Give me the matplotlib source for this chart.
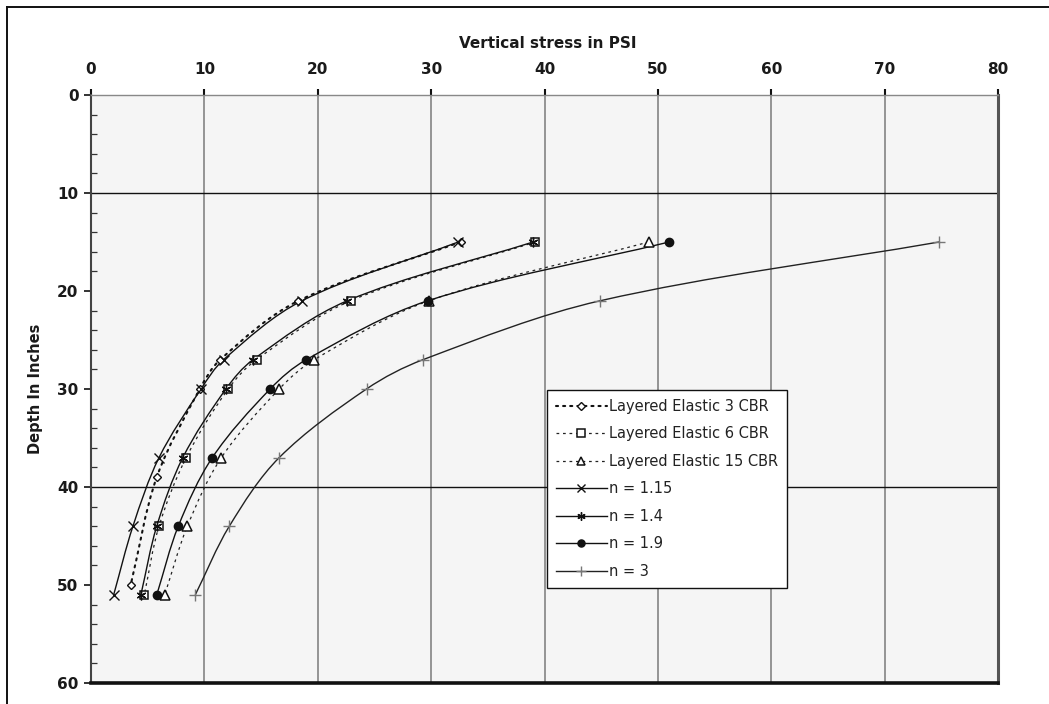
import numpy as np
import matplotlib
matplotlib.use("Agg")
import matplotlib.pyplot as plt
from matplotlib.path import Path
from matplotlib.patches import PathPatch
from matplotlib.lines import Line2D

plt.rcParams['font.family'] = ['DejaVu Sans']

# Depths (inches) at which stresses were computed
depth = [15, 21, 27, 30, 37, 44, 51]
depth_3cbr = [15, 21, 27, 30, 39, 50]

# Vertical stress (psi)
le_3cbr = [32.6, 18.3, 11.4, 9.6, 5.8, 3.5]
le_6cbr = [39.2, 22.9, 14.6, 12.1, 8.4, 6.0, 4.7]
le_15cbr = [49.2, 29.8, 19.7, 16.6, 11.5, 8.5, 6.5]
n_115 = [32.4, 18.6, 11.7, 9.7, 6.0, 3.7, 2.0]
n_14 = [39.0, 22.6, 14.3, 11.9, 8.1, 5.8, 4.4]
n_19 = [51.0, 29.7, 19.0, 15.8, 10.7, 7.7, 5.8]
n_3 = [74.8, 44.9, 29.3, 24.3, 16.6, 12.2, 9.2]

labels = ["Layered Elastic 3 CBR", "Layered Elastic 6 CBR", "Layered Elastic 15 CBR",
          "n = 1.15", "n = 1.4", "n = 1.9", "n = 3"]

x_ticks = [0, 10, 20, 30, 40, 50, 60, 70, 80]
y_ticks = [0, 10, 20, 30, 40, 50, 60]
y_rules = [10, 40]

star = (6, 2, 0)

series = [
    (le_3cbr, depth_3cbr, dict(ls=(0, (1.0, 2.4)), lw=1.5, color="#111111", cap="round",
                               marker="D", ms=4.5, mfc="white", mec="#111111", mew=1.0)),
    (le_6cbr, depth, dict(ls=(0, (2.2, 3.0)), lw=0.9, color="#222222", cap="butt",
                          marker="s", ms=6, mfc="white", mec="#111111", mew=1.1)),
    (le_15cbr, depth, dict(ls=(0, (2.2, 3.0)), lw=0.9, color="#222222", cap="butt",
                           marker="^", ms=7, mfc="white", mec="#111111", mew=1.1)),
    (n_115, depth, dict(ls="-", lw=1.0, color="#111111", cap="butt",
                        marker="x", ms=7, mfc="none", mec="#111111", mew=1.0)),
    (n_14, depth, dict(ls="-", lw=1.0, color="#111111", cap="butt",
                       marker=star, ms=7, mfc="none", mec="#111111", mew=1.0)),
    (n_19, depth, dict(ls="-", lw=1.0, color="#111111", cap="butt",
                       marker="o", ms=6, mfc="#111111", mec="#111111", mew=1.0)),
    (n_3, depth, dict(ls="-", lw=1.0, color="#222222", cap="butt",
                      marker="+", ms=8, mfc="none", mec="#777777", mew=1.0)),
]


def smooth_path(ax, xs, ys):
    """Smoothed Bezier path through the points (chord-length tangents in display space)."""
    pts = np.column_stack([xs, ys]).astype(float)
    disp = ax.transData.transform(pts)
    d = np.hypot(*np.diff(disp, axis=0).T)
    n = len(pts)
    tang = np.zeros_like(pts)
    tang[0] = (pts[1] - pts[0]) / d[0]
    tang[-1] = (pts[-1] - pts[-2]) / d[-1]
    for i in range(1, n - 1):
        tang[i] = (pts[i + 1] - pts[i - 1]) / (d[i - 1] + d[i])
    verts = [pts[0]]
    codes = [Path.MOVETO]
    for i in range(n - 1):
        c1 = pts[i] + tang[i] * d[i] / 3.0
        c2 = pts[i + 1] - tang[i + 1] * d[i] / 3.0
        verts += [c1, c2, pts[i + 1]]
        codes += [Path.CURVE4] * 3
    return Path(verts, codes)


W, H = 1049, 704
fig = plt.figure(figsize=(W / 100, H / 100), dpi=100)
fig.patch.set_facecolor("white")

L, R, T, B = 91, 998, 95, 683
ax = fig.add_axes([L / W, 1 - B / H, (R - L) / W, (B - T) / H])
ax.set_facecolor("#f5f5f5")

ax.set_xlim(0, 80)
ax.set_ylim(60, 0)

# grid: vertical rules at every major x tick, horizontal rules at two depths
for xv in x_ticks[1:-1]:
    ax.axvline(xv, color="#8c8c8c", lw=1.3, zorder=1)
for yv in y_rules:
    ax.axhline(yv, color="#111111", lw=1.0, zorder=1)

handles = []
for (xs, ys, st), lab in zip(series, labels):
    patch = PathPatch(smooth_path(ax, xs, ys), fill=False, edgecolor=st["color"],
                      lw=st["lw"], linestyle=st["ls"], capstyle=st["cap"], zorder=3)
    ax.add_patch(patch)
    ax.plot(xs, ys, linestyle="none", marker=st["marker"], ms=st["ms"],
            mfc=st["mfc"], mec=st["mec"], mew=st["mew"], zorder=4)
    handles.append(Line2D([], [], color=st["color"], lw=st["lw"], linestyle=st["ls"],
                          dash_capstyle=st["cap"], marker=st["marker"], ms=st["ms"] * 0.85,
                          mfc=st["mfc"], mec=st["mec"], mew=st["mew"], label=lab))

# axes, ticks and labels
ax.xaxis.tick_top()
ax.set_xticks(x_ticks)
ax.set_yticks(y_ticks)
ax.set_yticks(np.arange(0, 61, 2), minor=True)
ax.tick_params(axis="x", which="major", direction="out", length=4, width=1.5,
               color="#111111", pad=9, labelsize=11)
ax.tick_params(axis="y", which="major", direction="out", length=5, width=1.2,
               color="#111111", pad=4, labelsize=11)
ax.tick_params(axis="y", which="minor", direction="in", length=4, width=0.9,
               color="#333333")
for lbl in ax.get_xticklabels() + ax.get_yticklabels():
    lbl.set_fontweight("bold")
    lbl.set_color("#1a1a1a")

ax.spines["left"].set_color("#444444")
ax.spines["left"].set_linewidth(1.5)
ax.spines["bottom"].set_color("#111111")
ax.spines["bottom"].set_linewidth(2.6)
ax.spines["right"].set_color("#555555")
ax.spines["right"].set_linewidth(2.2)
ax.spines["top"].set_color("#888888")
ax.spines["top"].set_linewidth(1.0)

ax.set_xlabel("Vertical stress in PSI", fontsize=11, fontweight="bold", color="#1a1a1a")
ax.xaxis.set_label_position("top")
ax.xaxis.set_label_coords(0.504, (B - 48) / (B - T))
ax.set_ylabel("Depth In Inches", fontsize=10.5, fontweight="bold", color="#1a1a1a")
ax.yaxis.set_label_coords((43 - L) / (R - L), (B - 389) / (B - T))

leg = fig.legend(handles=handles, loc="upper left",
                 bbox_to_anchor=(547 / W, 1 - 390 / H), borderaxespad=0,
                 frameon=True, fancybox=False, framealpha=1, edgecolor="#111111",
                 facecolor="white", fontsize=10.5, handlelength=3.5, handletextpad=0.15,
                 labelspacing=0.86, borderpad=0.6)
leg.get_frame().set_linewidth(1.0)
for t in leg.get_texts():
    t.set_color("#222222")

# page frame lines
fig.add_artist(Line2D([7 / W, 7 / W], [0, 1 - 7 / H], transform=fig.transFigure,
                      color="#111111", lw=1.4))
fig.add_artist(Line2D([7 / W, 1], [1 - 7 / H, 1 - 7 / H], transform=fig.transFigure,
                      color="#111111", lw=1.4))

fig.savefig("out.png", dpi=100)
